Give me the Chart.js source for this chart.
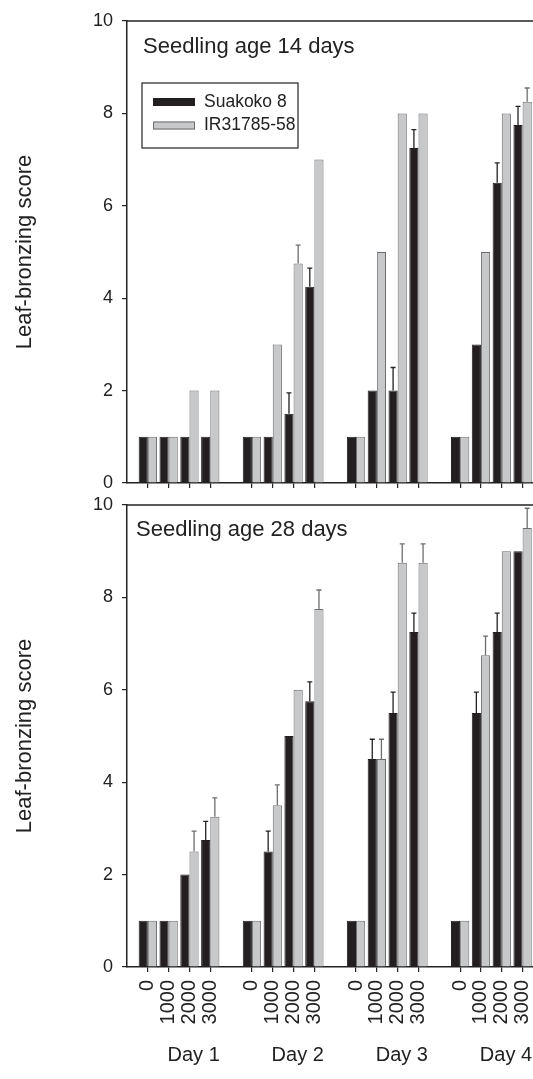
<!DOCTYPE html>
<html>
<head>
<meta charset="utf-8">
<script src="https://cdn.jsdelivr.net/npm/chart.js@4/dist/chart.umd.min.js"></script>
<style>
  html, body { margin: 0; padding: 0; background: #fff; }
  body { width: 533px; height: 1079px; position: relative; overflow: hidden; }
  canvas { position: absolute; left: 0; }
  #chart14 { top: 0; }
  #chart28 { top: 490px; }
</style>
</head>
<body>
<canvas id="chart14" width="533" height="495"></canvas>
<canvas id="chart28" width="533" height="589"></canvas>
<script>
const doses = ['0', '1000', '2000', '3000'];
const days = ['Day 1', 'Day 2', 'Day 3', 'Day 4'];
const seriesNames = ['Suakoko 8', 'IR31785-58'];
const yTicks = [0, 2, 4, 6, 8, 10];

// seedling age 14 days (Day 1..4, doses 0/1000/2000/3000)
const suakoko14 = [1, 1, 1, 1, 1, 1, 1.5, 4.25, 1, 2, 2, 7.25, 1, 3, 6.5, 7.75];
const ir14 = [1, 1, 2, 2, 1, 3, 4.75, 7, 1, 5, 8, 8, 1, 5, 8, 8.25];
const suakoko14Err = [0, 0, 0, 0, 0, 0, 0.45, 0.4, 0, 0, 0.5, 0.4, 0, 0, 0.43, 0.4];
const ir14Err = [0, 0, 0, 0, 0, 0, 0.4, 0, 0, 0, 0, 0, 0, 0, 0, 0.3];

// seedling age 28 days
const suakoko28 = [1, 1, 2, 2.75, 1, 2.5, 5, 5.75, 1, 4.5, 5.5, 7.25, 1, 5.5, 7.25, 9];
const ir28 = [1, 1, 2.5, 3.25, 1, 3.5, 6, 7.75, 1, 4.5, 8.75, 8.75, 1, 6.75, 9, 9.5];
const suakoko28Err = [0, 0, 0, 0.4, 0, 0.44, 0, 0.42, 0, 0.43, 0.45, 0.41, 0, 0.45, 0.41, 0];
const ir28Err = [0, 0, 0.44, 0.41, 0, 0.44, 0, 0.41, 0, 0.43, 0.41, 0.41, 0, 0.41, 0, 0.43];

const FONT = '"Liberation Sans", Arial, sans-serif';
const INK = '#222';
const DARK = '#231f20';
const GREY = '#c7c8ca';
const GREY_EDGE = '#6d6e70';

// one slot per dose, an empty slot between days
const slots = days.flatMap((d, di) => doses.map((_, k) => di * 5 + k));
const slotLabel = {};
slots.forEach((v, i) => { slotLabel[v] = doses[i % doses.length]; });

function toPoints(values) {
  return values.map((v, i) => ({ x: slots[i], y: v }));
}

const panelPlugin = {
  id: 'panel',
  afterDatasetsDraw(chart) {
    const { ctx, scales } = chart;
    const y = scales.y;
    chart.data.datasets.forEach((ds, d) => {
      const meta = chart.getDatasetMeta(d);
      ctx.save();
      ctx.strokeStyle = ds.errColor;
      ctx.lineWidth = 1.3;
      meta.data.forEach((bar, i) => {
        const err = ds.errors[i];
        if (!err) return;
        const top = y.getPixelForValue(ds.data[i].y + err);
        ctx.beginPath();
        ctx.moveTo(bar.x, bar.y);
        ctx.lineTo(bar.x, top);
        ctx.moveTo(bar.x - 2.5, top);
        ctx.lineTo(bar.x + 2.5, top);
        ctx.stroke();
      });
      ctx.restore();
    });
  },
  afterDraw(chart, args, opts) {
    const { ctx, chartArea, scales } = chart;
    ctx.save();
    // top frame line
    ctx.strokeStyle = INK;
    ctx.lineWidth = 1.5;
    ctx.beginPath();
    ctx.moveTo(chartArea.left, chartArea.top);
    ctx.lineTo(chartArea.right, chartArea.top);
    ctx.stroke();

    ctx.fillStyle = INK;
    ctx.textBaseline = 'alphabetic';
    ctx.textAlign = 'left';
    ctx.font = '22px ' + FONT;
    ctx.fillText(opts.title, chartArea.left + opts.titleDx, chartArea.top + opts.titleDy);

    if (opts.legend) {
      const bx = chartArea.left + 15;
      const by = chartArea.top + 62;
      ctx.lineWidth = 1.2;
      ctx.strokeStyle = INK;
      ctx.strokeRect(bx, by, 156, 65);
      const rows = [
        { fill: DARK, edge: DARK, cy: by + 19 },
        { fill: GREY, edge: GREY_EDGE, cy: by + 42.5 },
      ];
      ctx.font = '17.5px ' + FONT;
      ctx.textBaseline = 'middle';
      rows.forEach((r, i) => {
        ctx.fillStyle = r.fill;
        ctx.fillRect(bx + 11, r.cy - 4, 42, 8);
        ctx.strokeStyle = r.edge;
        ctx.lineWidth = 1;
        ctx.strokeRect(bx + 11.5, r.cy - 3.5, 41, 7);
        ctx.fillStyle = INK;
        ctx.fillText(seriesNames[i], bx + 62, r.cy);
      });
    }

    if (opts.days) {
      ctx.font = '20px ' + FONT;
      ctx.textAlign = 'center';
      ctx.textBaseline = 'alphabetic';
      days.forEach((d, di) => {
        const x = scales.x.getPixelForValue(di * 5 + 1.5 + 0.7);
        ctx.fillText(d, x, chart.height - 18);
      });
    }
    ctx.restore();
  },
};

function makeChart(id, sVals, irVals, sErr, irErr, panel) {
  return new Chart(document.getElementById(id), {
    type: 'bar',
    data: {
      datasets: [
        {
          label: seriesNames[0],
          data: toPoints(sVals),
          errors: sErr,
          errColor: INK,
          backgroundColor: DARK,
          borderColor: DARK,
          borderWidth: 1,
        },
        {
          label: seriesNames[1],
          data: toPoints(irVals),
          errors: irErr,
          errColor: GREY_EDGE,
          backgroundColor: GREY,
          borderColor: GREY_EDGE,
          borderWidth: 1,
        },
      ],
    },
    options: {
      responsive: false,
      animation: false,
      devicePixelRatio: 1,
      categoryPercentage: 0.88,
      barPercentage: 1,
      layout: { padding: { left: 12, right: 0, top: panel.padTop, bottom: 0 } },
      plugins: {
        legend: { display: false },
        tooltip: { enabled: false },
        panel,
      },
      scales: {
        x: {
          type: 'linear',
          min: -1,
          max: 18.5,
          offset: false,
          bounds: 'data',
          afterBuildTicks(scale) {
            scale.ticks = slots.map((v) => ({ value: v }));
          },
          afterFit(scale) {
            scale.height = panel.xHeight;
            scale.paddingLeft = 0;
            scale.paddingRight = 0;
          },
          ticks: {
            display: panel.days,
            autoSkip: false,
            minRotation: 90,
            maxRotation: 90,
            padding: 8,
            color: INK,
            font: { family: FONT, size: 20 },
            callback(value) {
              return slotLabel[value] ?? '';
            },
          },
          grid: { display: true, offset: false, drawOnChartArea: false, drawTicks: true, tickLength: 5, color: INK, lineWidth: 1.2 },
          border: { display: true, color: INK, width: 1.5 },
        },
        y: {
          min: 0,
          max: 10,
          afterBuildTicks(scale) {
            scale.ticks = yTicks.map((v) => ({ value: v }));
          },
          afterFit(scale) {
            scale.width = 115;
            scale.paddingTop = 0;
            scale.paddingBottom = 0;
          },
          ticks: {
            padding: 9,
            color: INK,
            font: { family: FONT, size: 18 },
          },
          grid: { display: true, drawOnChartArea: false, drawTicks: true, tickLength: 5, color: INK, lineWidth: 1.2 },
          border: { display: true, color: INK, width: 1.5 },
          title: {
            display: true,
            text: 'Leaf-bronzing score',
            color: INK,
            padding: 0,
            font: { family: FONT, size: 22 },
          },
        },
      },
    },
    plugins: [panelPlugin],
  });
}

makeChart('chart14', suakoko14, ir14, suakoko14Err, ir14Err, {
  title: 'Seedling age 14 days', titleDx: 16, titleDy: 32, padTop: 21, xHeight: 12, legend: true, days: false,
});
makeChart('chart28', suakoko28, ir28, suakoko28Err, ir28Err, {
  title: 'Seedling age 28 days', titleDx: 9, titleDy: 31, padTop: 15, xHeight: 112, legend: false, days: true,
});
</script>
</body>
</html>
